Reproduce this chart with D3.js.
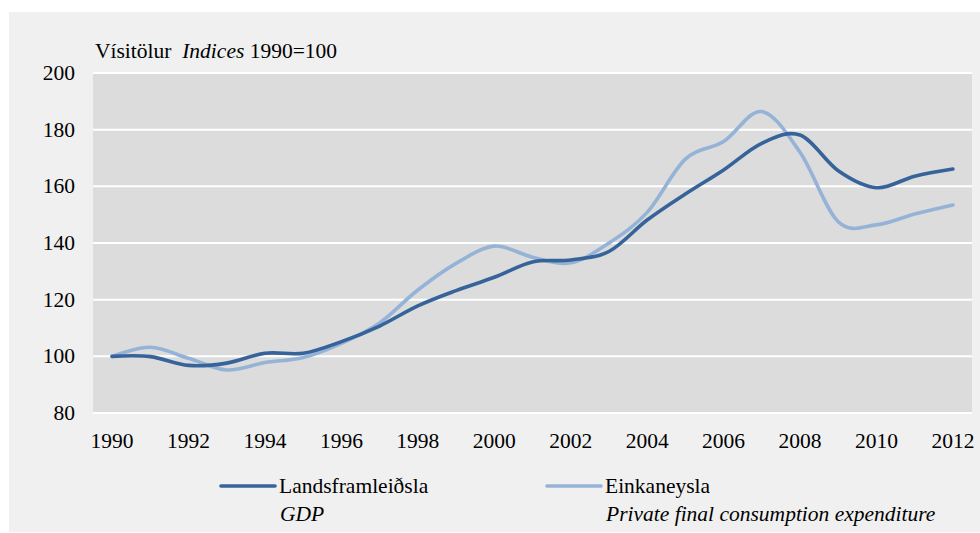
<!DOCTYPE html>
<html>
<head>
<meta charset="utf-8">
<script src="https://cdn.jsdelivr.net/npm/d3@7"></script>
<style>
  body { margin: 0; background: #ffffff; }
  svg text { font-family: "Liberation Serif", "Times New Roman", serif; fill: #000; font-size: 21.5px; }
</style>
</head>
<body>
<script>
// ----------------------------------------------------------------------
// data
var years = d3.range(1990, 2013);
var gdp = [100, 99.9, 96.8, 97.6, 101.1, 101.1, 105.2, 110.7, 117.8, 123.2,
           127.9, 133.3, 134, 137, 148.1, 157.3, 165.8, 175.2, 178.1, 165.5,
           159.5, 163.6, 166.1];
var consumption = [100, 103.2, 99.3, 95.2, 97.8, 99.6, 104.6, 111.8, 123.4, 132.8,
                   138.9, 135, 133, 140, 150.8, 169.6, 175.8, 186.4, 172, 147.5,
                   146.4, 150.2, 153.4];
var yTicks = [80, 100, 120, 140, 160, 180, 200];
var xLabels = years.filter(function (d) { return d % 2 === 0; });
// ----------------------------------------------------------------------

var width = 980, height = 533;
var plot = { left: 93, right: 972, top: 73, bottom: 413 };

var svg = d3.select("body").append("svg")
    .attr("width", width)
    .attr("height", height);

// outer panel
svg.append("rect")
    .attr("x", 9).attr("y", 12)
    .attr("width", width - 9).attr("height", 520)
    .attr("fill", "#f0f0f0");

// plot area
svg.append("rect")
    .attr("x", plot.left).attr("y", plot.top)
    .attr("width", plot.right - plot.left).attr("height", plot.bottom - plot.top)
    .attr("fill", "#dcdcdc");

var x = d3.scaleBand().domain(years).range([plot.left, plot.right]);
var y = d3.scaleLinear().domain([80, 200]).range([plot.bottom, plot.top]);

function cx(d) { return x(d) + x.bandwidth() / 2; }

// gridlines
svg.append("g")
    .selectAll("line")
    .data(yTicks)
    .enter()
    .append("line")
    .attr("x1", plot.left).attr("x2", plot.right)
    .attr("y1", function (d) { return y(d); })
    .attr("y2", function (d) { return y(d); })
    .attr("stroke", "#ffffff")
    .attr("stroke-width", 2);

// y labels
svg.append("g")
    .selectAll("text")
    .data(yTicks)
    .enter()
    .append("text")
    .attr("x", 75)
    .attr("y", function (d) { return y(d) + 7; })
    .attr("text-anchor", "end")
    .text(function (d) { return d; });

// x labels
svg.append("g")
    .selectAll("text")
    .data(xLabels)
    .enter()
    .append("text")
    .attr("x", function (d) { return cx(d); })
    .attr("y", 448)
    .attr("text-anchor", "middle")
    .text(function (d) { return d; });

// title
var title = svg.append("text")
    .attr("x", 95).attr("y", 58)
    .attr("xml:space", "preserve");
title.append("tspan").text("Vísitölur  ");
title.append("tspan").style("font-style", "italic").text("Indices");
title.append("tspan").text(" 1990=100");

// lines
var line = d3.line()
    .x(function (d, i) { return cx(years[i]); })
    .y(function (d) { return y(d); })
    .curve(d3.curveCardinal.tension(0));

var series = [
  { values: consumption, color: "#95b3d7" },
  { values: gdp, color: "#36639a" }
];

svg.append("g")
    .selectAll("path")
    .data(series)
    .enter()
    .append("path")
    .attr("d", function (d) { return line(d.values); })
    .attr("fill", "none")
    .attr("stroke", function (d) { return d.color; })
    .attr("stroke-width", 3.6)
    .attr("stroke-linecap", "round");

// legend
var legend = [
  { name: "Landsframleiðsla", sub: "GDP", color: "#36639a", x: 221 },
  { name: "Einkaneysla", sub: "Private final consumption expenditure", color: "#95b3d7", x: 547 }
];

var lg = svg.append("g")
    .selectAll("g")
    .data(legend)
    .enter()
    .append("g");

lg.append("line")
    .attr("x1", function (d) { return d.x; })
    .attr("x2", function (d) { return d.x + 54; })
    .attr("y1", 486).attr("y2", 486)
    .attr("stroke", function (d) { return d.color; })
    .attr("stroke-width", 3.6)
    .attr("stroke-linecap", "round");

lg.append("text")
    .attr("x", function (d) { return d.x + 58; })
    .attr("y", 493)
    .text(function (d) { return d.name; });

lg.append("text")
    .attr("x", function (d) { return d.x + 59; })
    .attr("y", 521)
    .style("font-style", "italic")
    .text(function (d) { return d.sub; });
</script>
</body>
</html>
